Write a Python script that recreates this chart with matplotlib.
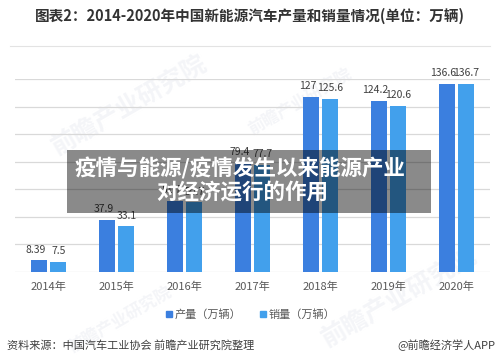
import matplotlib
matplotlib.use("Agg")
import matplotlib.pyplot as plt
import numpy as np
from matplotlib.patches import Rectangle
from matplotlib.lines import Line2D

plt.rcParams['font.family'] = ['Noto Sans CJK SC', 'DejaVu Sans']

years = ["2014年", "2015年", "2016年", "2017年", "2018年", "2019年", "2020年"]
production = [8.39, 37.9, 51.7, 79.4, 127, 124.2, 136.6]
sales = [7.5, 33.1, 50.7, 77.7, 125.6, 120.6, 136.7]
series_names = ["产量（万辆）", "销量（万辆）"]
colors = ["#3b7fdf", "#42a0ec"]

title = "图表2：2014-2020年中国新能源汽车产量和销量情况(单位：万辆)"
overlay_lines = ["疫情与能源/疫情发生以来能源产业", "对经济运行的作用"]
source = "资料来源：中国汽车工业协会 前瞻产业研究院整理"
credit = "@前瞻经济学人APP"

W, H = 500, 364
fig = plt.figure(figsize=(W / 100, H / 100), dpi=100)

# watermarks (very faint, behind the chart)
for (x, y, s) in [(0.26, 0.71, 18), (0.24, 0.12, 12), (0.80, 0.18, 18), (0.60, 0.72, 12)]:
    fig.text(x, y, "前瞻产业研究院", fontsize=s, color="#f4f5f8", rotation=30,
             ha="center", va="center", fontweight="bold", zorder=-5)

ax = fig.add_axes([15 / W, 1 - 272 / H, 475 / W, (272 - 79) / H])
ax.set_zorder(1)
ax.patch.set_alpha(0)
x = np.arange(len(years))
bw = 0.236
off = 0.14
b1 = ax.bar(x - off, production, bw, color=colors[0], zorder=3, label=series_names[0])
b2 = ax.bar(x + off, sales, bw, color=colors[1], zorder=3, label=series_names[1])
for bars, vals, dx in ((b1, production, -2.5), (b2, sales, 0.5)):
    for r, v in zip(bars, vals):
        ax.annotate(f"{v:g}", (r.get_x() + r.get_width() / 2, v), xytext=(dx, 4),
                    textcoords="offset points", ha="center", va="bottom",
                    fontsize=7.5, color="#404040", zorder=4)

ax.set_xlim(-0.5, len(years) - 0.5)
ax.set_ylim(0, 140)
ax.set_yticks(np.arange(0, 141, 20))
ax.yaxis.grid(True, color="#d9d9d9", linewidth=0.9, zorder=0)
ax.tick_params(axis="y", left=False, labelleft=False)
ax.tick_params(axis="x", length=0, pad=7, labelsize=8, labelcolor="#595959")
ax.set_xticks(x)
ax.set_xticklabels(years)
for s in ax.spines.values():
    s.set_visible(False)

# legend
handles = [Line2D([], [], marker="s", linestyle="none", markersize=4.5, color=c) for c in colors]
fig.legend(handles, series_names, loc="center", bbox_to_anchor=(0.5, 1 - 314 / H),
           ncol=2, frameon=False, fontsize=8, labelcolor="#595959",
           handletextpad=0.1, columnspacing=1.6, handlelength=0.8)

# title and rule
fig.text(0.5, 1 - 16 / H, title, ha="center", va="center", fontsize=10.5,
         fontweight="bold", color="#333333")
fig.add_artist(Line2D([10 / W, 490 / W], [1 - 46 / H, 1 - 46 / H], color="#e3e3e3",
                      linewidth=0.8, transform=fig.transFigure))

# footer
fig.text(7 / W, 1 - 345 / H, source, ha="left", va="center", fontsize=8, color="#404040")
fig.text(495 / W, 1 - 345 / H, credit, ha="right", va="center", fontsize=8, color="#404040")

# overlay banner
fig.add_artist(Rectangle((67 / W, 1 - 213 / H), (431 - 67) / W, (213 - 150) / H,
                         transform=fig.transFigure, facecolor="black", alpha=0.46,
                         edgecolor="none", zorder=10))
fig.text(0.48, 1 - 168 / H, overlay_lines[0], ha="center", va="center", fontsize=15.5,
         fontweight="bold", color="white", zorder=11)
fig.text(0.485, 1 - 193 / H, overlay_lines[1], ha="center", va="center", fontsize=15.5,
         fontweight="bold", color="white", zorder=11)

fig.savefig("out.png", dpi=100, facecolor="white")
